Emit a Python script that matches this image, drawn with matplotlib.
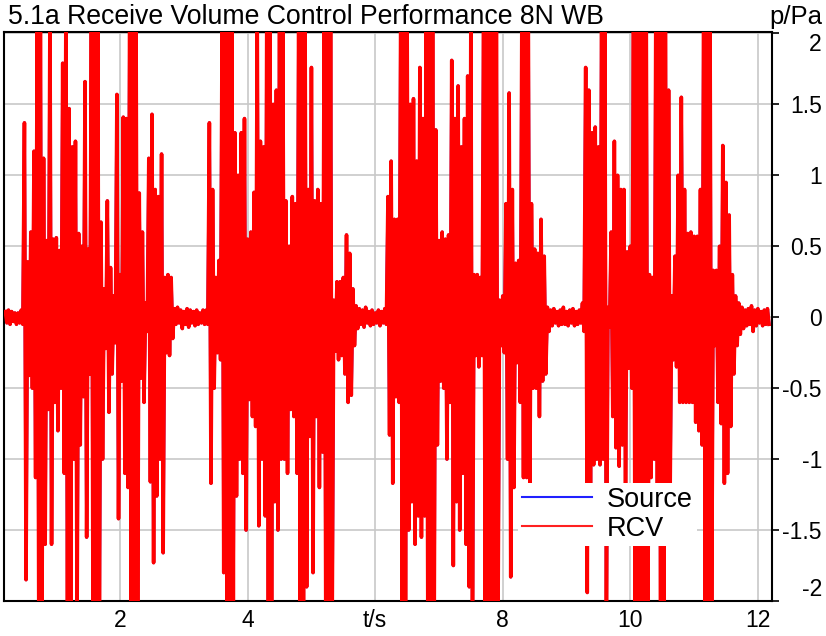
import numpy as np
import matplotlib
matplotlib.use('Agg')
import matplotlib.pyplot as plt
from matplotlib.lines import Line2D

plt.rcParams['font.family'] = ['Liberation Sans', 'DejaVu Sans']

# sampled peak values of the waveform, one hi/lo pair every 0.05 s from t = 0.20 s
t0 = 0.20
dt = 0.05
hi = [
    0.04, 0.05, 0.04, 0.03, 0.03, 0.05, 1.37, 0.39, 0.60, 1.17,
    2.2, 2.2, 1.12, 0.54, 2.2, 0.55, 0.56, 0.47, 1.79, 2.2,
    1.47, 1.20, 1.24, 0.59, 0.50, 1.66, 0.48, 2.2, 2.2, 2.2,
    0.67, 0.20, 0.82, 0.35, 0.15, 1.57, 0.30, 1.41, 1.40, 2.2,
    2.2, 2.2, 0.875, 0.60, 0.10, 1.12, 1.43, 0.90, 0.85, 1.15,
    0.28, 0.30, 0.28, 0.06, 0.07, 0.05, 0.04, 0.06, 0.05, 0.04,
    0.05, 0.03, 0.05, 0.05, 1.37, 0.90, 0.28, 0.40, 2.2, 2.2,
    2.2, 2.2, 1.30, 1.00, 1.30, 1.40, 0.55, 0.60, 0.88, 2.2,
    1.24, 1.20, 2.2, 2.2, 1.50, 1.60, 2.2, 2.2, 0.82, 0.50,
    0.85, 0.80, 2.2, 2.2, 2.2, 0.90, 1.76, 0.82, 0.90, 0.80,
    2.2, 2.2, 2.2, 0.12, 0.25, 0.25, 0.28, 0.58, 0.45, 0.20,
    0.08, 0.06, 0.05, 0.07, 0.04, 0.05, 0.03, 0.05, 0.04, 0.06,
    0.85, 1.10, 0.69, 0.69, 2.2, 2.2, 2.2, 1.50, 1.54, 1.10,
    1.76, 1.40, 2.2, 2.2, 2.2, 1.32, 0.54, 0.60, 0.55, 0.58,
    1.81, 1.40, 1.63, 1.20, 1.40, 1.70, 2.2, 0.30, 0.30, 0.28,
    2.2, 2.2, 2.2, 2.2, 2.2, 0.12, 0.15, 0.80, 1.58, 0.90,
    0.38, 0.40, 2.2, 2.2, 2.2, 0.80, 0.48, 0.45, 0.69, 0.43,
    0.07, 0.05, 0.06, 0.04, 0.05, 0.07, 0.04, 0.05, 0.06, 0.04,
    0.05, 0.10, 1.76, 1.60, 1.30, 1.34, 1.20, 2.2, 2.2, 0.07,
    0.60, 1.24, 1.00, 0.90, 0.90, 0.46, 0.50, 2.2, 2.2, 2.2,
    2.2, 2.2, 0.30, 0.28, 2.2, 2.2, 2.2, 2.2, 1.60, 0.15,
    0.43, 1.00, 1.55, 0.90, 0.59, 0.60, 0.57, 0.57, 0.90, 2.2,
    2.2, 2.2, 0.33, 0.33, 0.50, 1.21, 0.95, 0.72, 0.30, 0.15,
    0.10, 0.07, 0.05, 0.06, 0.08, 0.05, 0.06, 0.04, 0.05, 0.06,
]
lo = [
    -0.04, -0.05, -0.03, -0.05, -0.04, -0.05, -1.85, -0.41, -0.50, -1.13,
    -2.2, -2.2, -1.60, -0.65, -1.60, -0.60, -0.80, -0.50, -1.10, -2.2,
    -2.2, -1.00, -2.2, -0.90, -0.56, -1.55, -0.40, -2.2, -2.2, -2.2,
    -1.00, -0.22, -0.67, -0.40, -0.18, -1.42, -0.45, -1.10, -1.20, -2.2,
    -2.2, -2.2, -0.43, -0.60, -0.10, -1.16, -1.73, -1.26, -1.00, -1.66,
    -0.25, -0.27, -0.15, -0.05, -0.04, -0.08, -0.05, -0.07, -0.04, -0.06,
    -0.05, -0.04, -0.05, -0.05, -1.17, -0.50, -0.25, -0.30, -1.80, -2.2,
    -2.2, -2.00, -1.26, -1.00, -1.10, -1.50, -0.58, -0.70, -0.77, -1.47,
    -1.00, -1.40, -2.2, -2.2, -1.30, -1.50, -1.00, -1.00, -1.10, -0.65,
    -0.70, -1.10, -2.2, -2.2, -1.90, -0.84, -1.80, -0.70, -1.20, -0.95,
    -2.2, -2.2, -2.2, -0.24, -0.30, -0.27, -0.40, -0.60, -0.55, -0.20,
    -0.08, -0.05, -0.07, -0.04, -0.06, -0.05, -0.04, -0.06, -0.04, -0.05,
    -0.83, -1.17, -0.56, -0.60, -2.2, -2.2, -1.50, -1.30, -1.60, -1.40,
    -1.55, -1.40, -2.2, -2.2, -2.2, -0.90, -0.45, -0.50, -1.00, -0.60,
    -1.75, -1.30, -1.50, -1.10, -1.60, -1.90, -2.2, -0.27, -0.35, -0.27,
    -2.2, -2.2, -2.2, -2.2, -2.2, -0.20, -0.25, -1.00, -1.83, -1.20,
    -0.32, -0.60, -1.13, -1.13, -1.20, -0.50, -0.50, -0.70, -0.45, -0.40,
    -0.10, -0.06, -0.04, -0.06, -0.05, -0.05, -0.06, -0.04, -0.06, -0.05,
    -0.04, -0.10, -1.94, -1.60, -1.04, -1.00, -1.04, -1.00, -2.2, -0.07,
    -0.70, -0.92, -1.05, -0.90, -1.20, -0.36, -0.50, -2.2, -2.2, -2.2,
    -2.2, -2.2, -1.13, -1.00, -1.20, -2.2, -2.2, -1.50, -1.20, -0.30,
    -0.35, -0.60, -0.60, -0.60, -0.60, -0.60, -0.74, -0.80, -0.90, -2.2,
    -2.2, -2.2, -0.20, -0.60, -0.75, -1.17, -1.10, -0.77, -0.40, -0.20,
    -0.12, -0.08, -0.06, -0.05, -0.10, -0.06, -0.04, -0.06, -0.05, -0.05,
]

x_ticks = [2, 4, 6, 8, 10, 12]
x_labels = ['2', '4', 't/s', '8', '10', '12']
y_ticks = [-2, -1.5, -1, -0.5, 0, 0.5, 1, 1.5, 2]
y_labels = ['-2', '-1.5', '-1', '-0.5', '0', '0.5', '1', '1.5', '2']

# zigzag hi -> lo for each sample
t = t0 + dt * np.arange(len(hi))
tt = np.column_stack([t, t + dt / 2]).ravel()
yy = np.column_stack([hi, lo]).ravel()

fig = plt.figure(figsize=(8.26, 6.36), dpi=100)
ax = fig.add_axes([0.0045, 0.055, 0.930, 0.8947])

ax.plot(tt, yy, color='#2020ff', lw=2.2, zorder=2)
ax.plot(tt, yy, color='#ff0000', lw=2.6, zorder=3)

ax.set_xlim(0.175, 12.22)
ax.set_ylim(-1.98, 2.01)
ax.set_xticks(x_ticks)
ax.set_xticklabels(x_labels)
ax.set_yticks(y_ticks)
ax.set_yticklabels(y_labels)
ax.yaxis.tick_right()
ax.grid(True, color='#c8c8c8', lw=1.2, zorder=0)
ax.set_axisbelow(True)
ax.tick_params(axis='x', length=0, pad=6, labelsize=16.5)
ax.tick_params(axis='y', length=5, width=1.2, pad=31, labelsize=16.5, right=True, left=False)
ylabs = ax.get_yticklabels()
for lab in ylabs:
    lab.set_horizontalalignment('right')
ylabs[-1].set_verticalalignment('top')
ylabs[0].set_verticalalignment('bottom')
for s in ax.spines.values():
    s.set_linewidth(1.5)

fig.text(0.0097, 0.973, '5.1a Receive Volume Control Performance 8N WB',
         fontsize=19.2, ha='left', va='center')
fig.text(0.996, 0.973, 'p/Pa', fontsize=18.5, ha='right', va='center')

handles = [Line2D([], [], color='#2020ff', lw=1.5),
           Line2D([], [], color='#ff2020', lw=1.5)]
leg = ax.legend(handles, ['Source', 'RCV'], loc='upper left',
                bbox_to_anchor=(0.669, 0.208), fontsize=19.5, frameon=True,
                fancybox=False, framealpha=1, edgecolor='none',
                borderpad=0.15, borderaxespad=0, handlelength=2.6,
                handletextpad=0.55, labelspacing=0.12)
leg.set_zorder(5)

fig.savefig('out.png', dpi=100)
